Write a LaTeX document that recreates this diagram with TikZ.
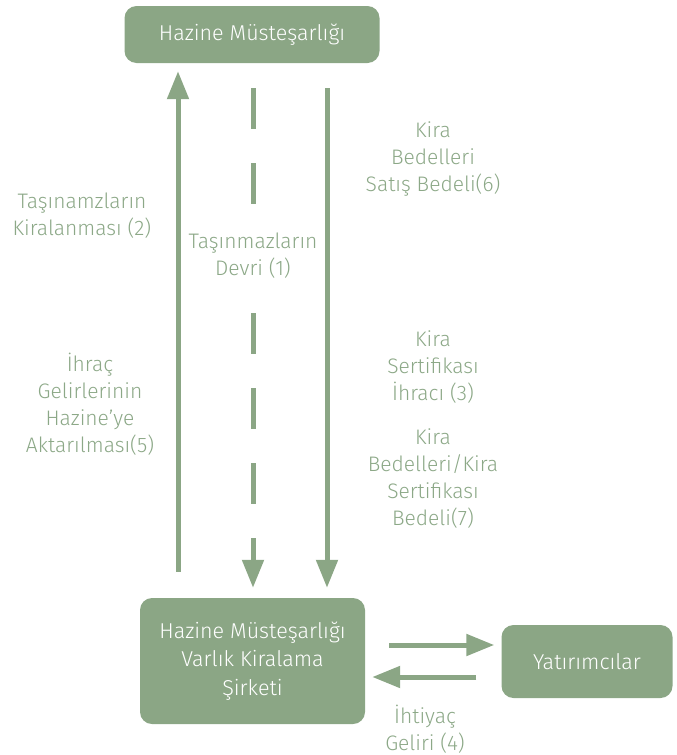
\documentclass[tikz,border=0pt]{standalone}
\usepackage{fontspec}
\setmainfont{Fira Sans Light}
\usetikzlibrary{arrows.meta}
\definecolor{sage}{RGB}{139,166,133}
\definecolor{sagetext}{RGB}{140,168,135}

\begin{document}
\begin{tikzpicture}[x=1pt,y=-1pt,
    box/.style={fill=sage,rounded corners=12pt,text=white,align=center,
      font=\fontsize{21.5}{28.5}\selectfont,inner sep=0pt},
    lbl/.style={text=sagetext,align=center,font=\fontsize{21}{27}\selectfont,inner sep=2pt},
    arr/.style={draw=sage,line width=5pt,-{Triangle[length=28pt,width=21pt]}}]
  \useasboundingbox (0,0) rectangle (677,755);

  % ---------------- boxes ----------------
  \node[box,minimum width=255pt,minimum height=57pt] (hm) at (252,34.5) {Hazine Müsteşarlığı};
  \node[box,minimum width=225pt,minimum height=126pt] (vks) at (252.5,661)
    {Hazine Müsteşarlığı\\Varlık Kiralama\\Şirketi};
  \node[box,minimum width=171pt,minimum height=73pt] (yat) at (587,661.5) {Yatırımcılar};

  % columns and rows of the connectors
  \coordinate (c1) at (178,0);
  \coordinate (c2) at (253,0);
  \coordinate (c3) at (327,0);
  \coordinate (r1) at (0,645);
  \coordinate (r2) at (0,677);

  % ---------------- vertical arrows ----------------
  \draw[arr,shorten <=26pt,shorten >=8pt] (vks.north -| c1) -- (hm.south -| c1);
  \draw[arr,dash pattern=on 41pt off 34pt,shorten <=25pt,shorten >=10pt]
    (hm.south -| c2) -- (vks.north -| c2)
    node[lbl,fill=white,inner ysep=8pt,pos=0.36] (devri) {Taşınmazların\\Devri (1)};
  \draw[arr,shorten <=25pt,shorten >=10pt] (hm.south -| c3) -- (vks.north -| c3);

  % ---------------- horizontal arrows ----------------
  \draw[arr,shorten <=24pt,shorten >=7pt] (vks.east |- r1) -- (yat.west |- r1);
  \draw[arr,shorten <=25pt,shorten >=7pt] (yat.west |- r2) -- (vks.east |- r2);

  % ---------------- labels ----------------
  \node[lbl] (kiralanma) at (82,216) {Taşınamzların\\Kiralanması (2)};
  \node[lbl] (aktarma) at (90,404) {İhraç\\Gelirlerinin\\Hazine’ye\\Aktarılması(5)};
  \node[lbl] (satis) at (433,159) {Kira\\Bedelleri\\Satış Bedeli(6)};
  \node[lbl] (ihrac) at (433,367) {Kira\\Sertifikası\\İhracı (3)};
  \node[lbl] (bedel) at (433,479) {Kira\\Bedelleri/Kira\\Sertifikası\\Bedeli(7)};
  \node[lbl] (ihtiyac) at (425,729) {İhtiyaç\\Geliri (4)};
\end{tikzpicture}
\end{document}
